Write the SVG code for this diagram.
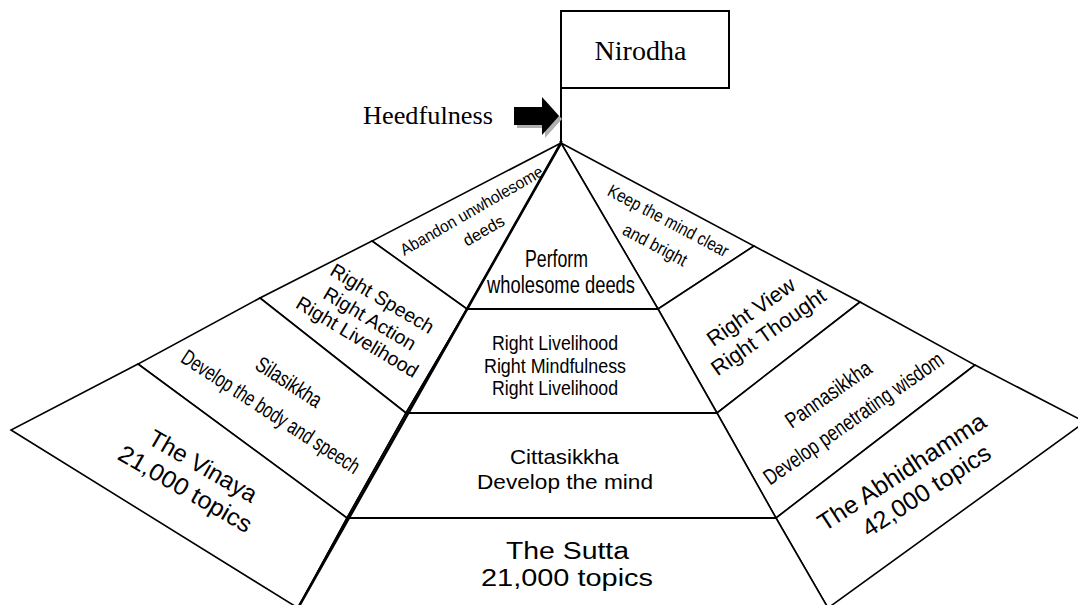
<svg xmlns="http://www.w3.org/2000/svg" width="1078" height="605" viewBox="0 0 1078 605">
<style>
.seg{fill:#fff;stroke:#000;stroke-width:1.6;stroke-linejoin:miter}
.sans{font-family:"Liberation Sans",Arial,sans-serif;fill:#000}
.serif{font-family:"Liberation Serif","Times New Roman",serif;fill:#000}
.m{text-anchor:middle}
</style>
<rect x="0" y="0" width="1078" height="605" fill="#fff"/>

<!-- left fan -->
<g id="left-abandon">
<polygon class="seg" points="561,143 372,241 467,309"/>
<text class="sans m" font-size="16.5" textLength="162" lengthAdjust="spacingAndGlyphs" transform="translate(474.4,215.5) rotate(-30)">Abandon unwholesome</text>
<text class="sans m" font-size="16.5" transform="translate(486.4,235.5) rotate(-30)">deeds</text>
</g>
<g id="left-right-speech">
<polygon class="seg" points="372,241 260,298 406,413 467,309"/>
<text class="sans m" font-size="19.5" transform="translate(378.9,304.3) rotate(31)">Right Speech</text>
<text class="sans m" font-size="19.5" transform="translate(366.4,324.3) rotate(31)">Right Action</text>
<text class="sans m" font-size="19.5" transform="translate(353.9,342.7) rotate(31)">Right Livelihood</text>
</g>
<g id="left-silasikkha">
<polygon class="seg" points="260,298 138,364 347,518 406,413"/>
<text class="sans m" font-size="22" textLength="74" lengthAdjust="spacingAndGlyphs" transform="translate(284.9,388.3) rotate(33)">Silasikkha</text>
<text class="sans m" font-size="22" textLength="208" lengthAdjust="spacingAndGlyphs" transform="translate(266.7,418) rotate(33)">Develop the body and speech</text>
</g>
<g id="left-vinaya">
<polygon class="seg" points="138,364 11,430 298,608 347,518"/>
<text class="sans m" font-size="24" transform="translate(199,473.2) rotate(30)">The Vinaya</text>
<text class="sans m" font-size="24" textLength="150" lengthAdjust="spacingAndGlyphs" transform="translate(181.2,496) rotate(30)">21,000 topics</text>
</g>

<!-- right fan -->
<g id="right-keep">
<polygon class="seg" points="561,143 754,246 658,309"/>
<text class="sans m" font-size="18" textLength="134" lengthAdjust="spacingAndGlyphs" transform="translate(665.5,226.1) rotate(28)">Keep the mind clear</text>
<text class="sans m" font-size="18" textLength="70" lengthAdjust="spacingAndGlyphs" transform="translate(652.2,250.3) rotate(28)">and bright</text>
</g>
<g id="right-view">
<polygon class="seg" points="754,246 860,302 717,413 658,309"/>
<text class="sans m" font-size="21.5" transform="translate(755.1,317.8) rotate(-35)">Right View</text>
<text class="sans m" font-size="21.5" transform="translate(772.6,337.8) rotate(-35)">Right Thought</text>
</g>
<g id="right-pannasikkha">
<polygon class="seg" points="860,302 975,365 776,518 717,413"/>
<text class="sans m" font-size="22" textLength="100" lengthAdjust="spacingAndGlyphs" transform="translate(832.6,400.3) rotate(-35)">Pannasikkha</text>
<text class="sans m" font-size="22" textLength="214" lengthAdjust="spacingAndGlyphs" transform="translate(857.6,424.4) rotate(-35)">Develop penetrating wisdom</text>
</g>
<g id="right-abhidhamma">
<polygon class="seg" points="975,365 1085,422 828,608 776,518"/>
<text class="sans m" font-size="24.5" textLength="195" lengthAdjust="spacingAndGlyphs" transform="translate(906.3,478.8) rotate(-33)">The Abhidhamma</text>
<text class="sans m" font-size="24.5" textLength="148" lengthAdjust="spacingAndGlyphs" transform="translate(930.8,497.5) rotate(-33)">42,000 topics</text>
</g>

<!-- central pyramid -->
<g id="center-perform">
<polygon class="seg" points="561,143 658,309 467,309"/>
<text class="sans m" x="556.5" y="267" font-size="23" textLength="63" lengthAdjust="spacingAndGlyphs">Perform</text>
<text class="sans m" x="561" y="293" font-size="23" textLength="148" lengthAdjust="spacingAndGlyphs">wholesome deeds</text>
</g>
<g id="center-right-livelihood">
<polygon class="seg" points="467,309 658,309 717,413 406,413"/>
<text class="sans m" x="555" y="350" font-size="20" textLength="126" lengthAdjust="spacingAndGlyphs">Right Livelihood</text>
<text class="sans m" x="555" y="373" font-size="20" textLength="142" lengthAdjust="spacingAndGlyphs">Right Mindfulness</text>
<text class="sans m" x="555" y="395" font-size="20" textLength="126" lengthAdjust="spacingAndGlyphs">Right Livelihood</text>
</g>
<g id="center-cittasikkha">
<polygon class="seg" points="406,413 717,413 776,518 347,518"/>
<text class="sans m" x="564.5" y="464" font-size="21" textLength="109" lengthAdjust="spacingAndGlyphs">Cittasikkha</text>
<text class="sans m" x="565" y="489" font-size="21" textLength="176" lengthAdjust="spacingAndGlyphs">Develop the mind</text>
</g>
<g id="center-sutta">
<polygon class="seg" points="347,518 776,518 828,608 298,608"/>
<text class="sans m" x="567.5" y="559" font-size="23" textLength="123" lengthAdjust="spacingAndGlyphs">The Sutta</text>
<text class="sans m" x="567" y="586" font-size="23" textLength="172" lengthAdjust="spacingAndGlyphs">21,000 topics</text>
</g>
<line x1="561" y1="143" x2="298" y2="608" stroke="#000" stroke-width="2.6"/>
<line x1="467" y1="309" x2="658" y2="309" stroke="#000" stroke-width="2"/>
<line x1="406" y1="413" x2="717" y2="413" stroke="#000" stroke-width="2"/>
<line x1="347" y1="518" x2="776" y2="518" stroke="#000" stroke-width="2"/>

<!-- top box -->
<g id="nirodha">
<rect x="561" y="11" width="168" height="77" fill="#fff" stroke="#000" stroke-width="2"/>
<text class="serif m" x="640.5" y="60" font-size="28">Nirodha</text>
</g>
<g id="heedfulness">
<text class="serif" x="363" y="124" font-size="26" textLength="130" lengthAdjust="spacingAndGlyphs">Heedfulness</text>
</g>

<g id="connectors">
<line x1="561" y1="88" x2="561" y2="143" stroke="#000" stroke-width="2"/>
<polygon points="517,110 545,110 545,100 562,119 545,138 545,128 517,128" fill="#b0b0b0"/>
<polygon points="514,107 542,107 542,97 559,116 542,135 542,125 514,125" fill="#000"/>
</g>
</svg>
